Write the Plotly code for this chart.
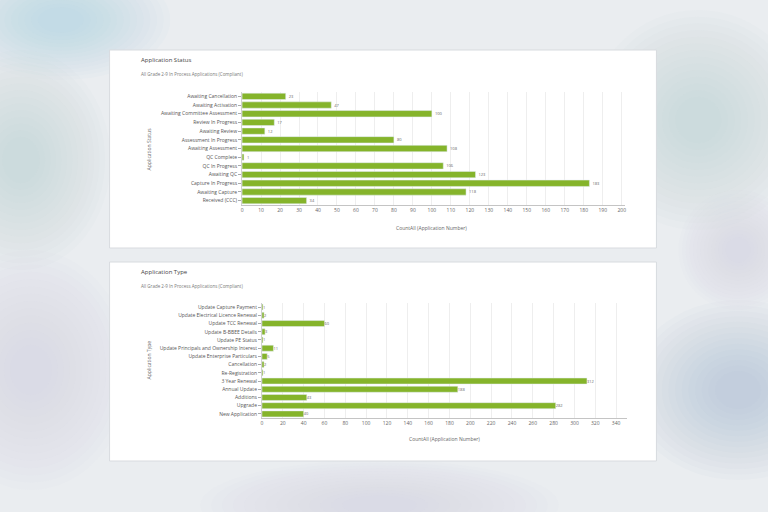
import plotly.graph_objects as go

status_cats = ["Awaiting Cancellation", "Awaiting Activation", "Awaiting Committee Assessment",
               "Review In Progress", "Awaiting Review", "Assessment In Progress", "Awaiting Assessment",
               "QC Complete", "QC In Progress", "Awaiting QC", "Capture In Progress", "Awaiting Capture",
               "Received (CCC)"]
status_vals = [23, 47, 100, 17, 12, 80, 108, 1, 106, 123, 183, 118, 34]

type_cats = ["Update Capture Payment", "Update Electrical Licence Renewal", "Update TCC Renewal",
             "Update B-BBEE Details", "Update PE Status", "Update Principals and Ownership Interest",
             "Update Enterprise Particulars", "Cancellation", "Re-Registration", "3 Year Renewal",
             "Annual Update", "Additions", "Upgrade", "New Application"]
type_vals = [1, 2, 60, 3, 1, 11, 5, 2, 1, 312, 188, 43, 282, 40]

GREEN = "#85b42b"
FONT = "Open Sans"
W, H = 768, 512

def px(x): return x / W
def py(y): return 1 - y / H

fig = go.Figure()
fig.add_trace(go.Bar(x=status_vals, y=status_cats, orientation="h", marker_color=GREEN,
                     text=status_vals, textposition="outside", textfont=dict(size=4, color="#666"),
                     cliponaxis=False, xaxis="x", yaxis="y"))
fig.add_trace(go.Bar(x=type_vals, y=type_cats, orientation="h", marker_color=GREEN,
                     text=type_vals, textposition="outside", textfont=dict(size=4, color="#666"),
                     cliponaxis=False, xaxis="x2", yaxis="y2"))

axis_common = dict(showgrid=True, gridcolor="#eeeeee", gridwidth=1, zeroline=False,
                   showline=True, linecolor="#c4c4c4", linewidth=1,
                   tickfont=dict(size=5, color="#666", family=FONT), ticks="")
yaxis_common = dict(showgrid=False, zeroline=False, showline=True, linecolor="#d0d0d0",
                    ticks="outside", ticklen=3, tickcolor="#aaa",
                    tickfont=dict(size=5, color="#555", family=FONT), autorange="reversed",
                    type="category")

fig.update_layout(
    width=W, height=H, margin=dict(l=0, r=0, t=0, b=0),
    paper_bgcolor="#eaedf0", plot_bgcolor="white", showlegend=False, bargap=0.27,
    font=dict(family=FONT, size=5, color="#555"),
    xaxis=dict(domain=[px(242), px(626)], range=[0, 201.5], dtick=10, anchor="y", **axis_common),
    yaxis=dict(domain=[py(205), py(92)], anchor="x", **yaxis_common),
    xaxis2=dict(domain=[px(262), px(628)], range=[0, 350], dtick=20, anchor="y2", **axis_common),
    yaxis2=dict(domain=[py(418), py(303)], anchor="x2", **yaxis_common),
)

# soft background tints (approximate the blurred backdrop with stacked translucent blobs)
blobs = [
    (60, 20, 110, 60, "#9ccbe0"),
    (700, 120, 110, 110, "#b4c2d2"),
    (740, 390, 110, 90, "#95b2d6"),
    (30, 370, 100, 120, "#c0ccd9"),
    (380, 505, 180, 45, "#c6c4da"),
    (20, 160, 90, 110, "#bfcbd7"),
    (740, 250, 60, 60, "#c9d2dc"),
]
N = 14
for cx, cy, rx, ry, col in blobs:
    for k in range(N):
        f = 1 - k * (0.85 / N)
        fig.add_shape(type="circle", xref="paper", yref="paper",
                      x0=px(cx - rx * f), x1=px(cx + rx * f),
                      y0=py(cy + ry * f), y1=py(cy - ry * f),
                      fillcolor=col, opacity=0.04, line=dict(width=0), layer="below")

# cards
for y0, y1 in [(50, 248), (262, 461)]:
    fig.add_shape(type="rect", xref="paper", yref="paper", x0=px(109), x1=px(658),
                  y0=py(y1), y1=py(y0), fillcolor="white", line=dict(color="#d8dbdf", width=1),
                  layer="below")

ann = [
    (139, 60, "Application Status", 6, "#444"),
    (139, 74, "All Grade 2-9 In Process Applications (Compliant)", 4.5, "#777"),
    (139, 272, "Application Type", 6, "#444"),
    (139, 286, "All Grade 2-9 In Process Applications (Compliant)", 4.5, "#777"),
]
for x, y, t, s, c in ann:
    fig.add_annotation(x=px(x), y=py(y), xref="paper", yref="paper", text=t, showarrow=False,
                       xanchor="left", yanchor="middle", font=dict(size=s, color=c, family=FONT))

for x, y, t in [(432, 228, "CountAll (Application Number)"), (445, 439, "CountAll (Application Number)")]:
    fig.add_annotation(x=px(x), y=py(y), xref="paper", yref="paper", text=t, showarrow=False,
                       xanchor="center", yanchor="middle", font=dict(size=5, color="#666", family=FONT))

for x, y, t in [(149, 149, "Application Status"), (149, 360, "Application Type")]:
    fig.add_annotation(x=px(x), y=py(y), xref="paper", yref="paper", text=t, showarrow=False,
                       textangle=-90, xanchor="center", yanchor="middle",
                       font=dict(size=5, color="#666", family=FONT))

fig.write_html("out.html")
